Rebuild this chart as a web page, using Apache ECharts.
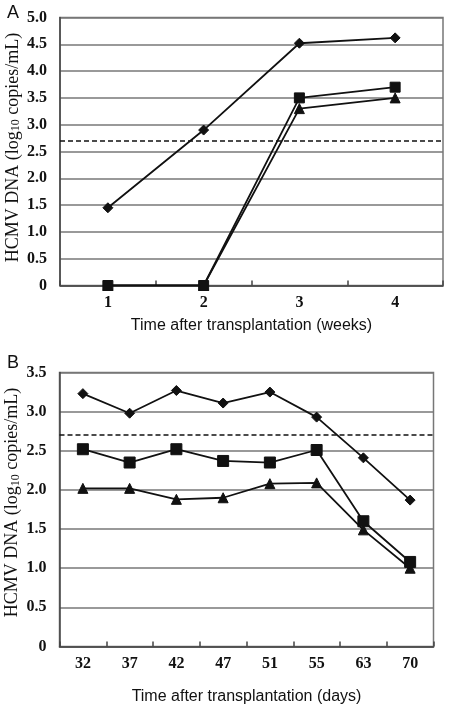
<!DOCTYPE html>
<html>
<head>
<meta charset="utf-8">
<script src="https://cdn.jsdelivr.net/npm/echarts@6/dist/echarts.min.js"></script>
<style>html,body{margin:0;padding:0;background:#fff}#c{width:450px;height:712px}</style>
</head>
<body>
<div id="c"></div>
<script>
// Panel A
const weeks = ['1', '2', '3', '4'];
const aDiamond = [1.45, 2.9, 4.52, 4.62];
const aSquare = [0, 0, 3.5, 3.7];
const aTriangle = [0, 0, 3.3, 3.5];
// Panel B
const days = ['32', '37', '42', '47', '51', '55', '63', '70'];
const bDiamond = [3.23, 2.98, 3.27, 3.11, 3.25, 2.93, 2.41, 1.87];
const bSquare = [2.52, 2.35, 2.52, 2.37, 2.35, 2.51, 1.60, 1.08];
const bTriangle = [2.02, 2.02, 1.88, 1.90, 2.08, 2.09, 1.49, 1.00];
const threshold = 2.7;

const chart = echarts.init(document.getElementById('c'), null, {renderer: 'canvas'});
const serif = '"Liberation Serif", "DejaVu Serif", serif';
const sans = '"Liberation Sans", Arial, sans-serif';
const gridCol = '#777';

function yAxis(idx, max, shift) {
  return {
    type: 'value', gridIndex: idx, min: 0, max: max, interval: 0.5,
    axisLine: {show: true, lineStyle: {color: '#444', width: 1.5}},
    axisTick: {show: false},
    splitLine: {show: true, lineStyle: {color: gridCol, width: 1.6}},
    axisLabel: {
      color: '#111', fontFamily: serif, fontWeight: 'bold', fontSize: 16, margin: 13,
      formatter: v => v === 0 ? '0' : v.toFixed(1)
    },
    name: 'HCMV DNA (log{sub|10} copies/mL)',
    nameLocation: 'middle', nameRotate: 90, nameGap: 38, nameMoveOverlap: false,
    nameTextStyle: {
      color: '#111', fontFamily: serif, fontSize: 18, padding: [0, 0, 0, shift],
      rich: {sub: {fontFamily: serif, fontSize: 12, verticalAlign: 'bottom', padding: [6, 0, 0, 0], color: '#111'}}
    }
  };
}
function xAxis(idx, cats, name, gap) {
  return {
    type: 'category', gridIndex: idx, data: cats, boundaryGap: true,
    axisLine: {show: true, lineStyle: {color: '#444', width: 1.5}},
    axisTick: {show: true, inside: true, length: 5, lineStyle: {color: '#444', width: 1.5}},
    axisLabel: {color: '#111', fontFamily: serif, fontWeight: 'bold', fontSize: 16, margin: 9},
    name: name, nameLocation: 'middle', nameGap: gap, nameMoveOverlap: false,
    nameTextStyle: {color: '#111', fontFamily: sans, fontSize: 16}
  };
}
function ser(idx, data, symbol, size, withMark) {
  const s = {
    type: 'line', xAxisIndex: idx, yAxisIndex: idx, data: data,
    symbol: symbol, symbolSize: size, showAllSymbol: true,
    lineStyle: {color: '#111', width: 1.8},
    itemStyle: {color: '#111', borderColor: '#111'},
    animation: false, z: 5
  };
  if (withMark) {
    s.markLine = {
      silent: true, symbol: 'none', label: {show: false},
      lineStyle: {color: '#111', type: [5, 3], width: 1.5},
      data: [{yAxis: threshold}]
    };
  }
  return s;
}

chart.setOption({
  backgroundColor: '#fff',
  animation: false,
  title: [
    {text: 'A', left: 7, top: 4, padding: 0, textStyle: {fontFamily: sans, fontWeight: 'normal', fontSize: 18, color: '#111'}},
    {text: 'B', left: 7, top: 354, padding: 0, textStyle: {fontFamily: sans, fontWeight: 'normal', fontSize: 18, color: '#111'}}
  ],
  grid: [
    {left: 60, top: 17.5, width: 383, height: 268, containLabel: false, outerBoundsMode: 'none', show: true, borderColor: gridCol, borderWidth: 1.5, backgroundColor: '#fff'},
    {left: 59.5, top: 372.5, width: 374, height: 274, containLabel: false, outerBoundsMode: 'none', show: true, borderColor: gridCol, borderWidth: 1.5, backgroundColor: '#fff'}
  ],
  xAxis: [
    xAxis(0, weeks, 'Time after transplantation (weeks)', 32),
    xAxis(1, days, 'Time after transplantation (days)', 42)
  ],
  yAxis: [yAxis(0, 5, 8), yAxis(1, 3.5, 14)],
  series: [
    ser(0, aTriangle, 'triangle', 10, true),
    ser(0, aSquare, 'rect', 10, false),
    ser(0, aDiamond, 'diamond', 10, false),
    ser(1, bTriangle, 'triangle', 10, true),
    ser(1, bSquare, 'rect', 11, false),
    ser(1, bDiamond, 'diamond', 10, false)
  ]
});
</script>
</body>
</html>
